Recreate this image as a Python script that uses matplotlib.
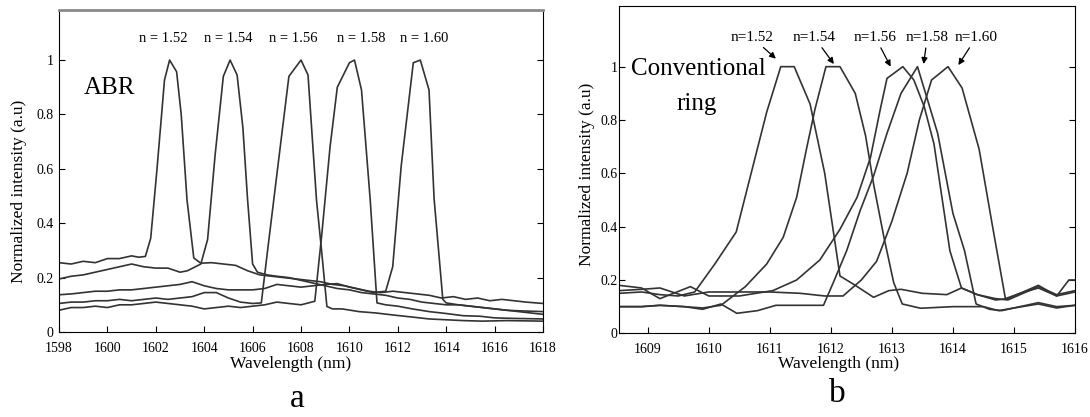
import matplotlib.pyplot as plt

plt.rcParams['font.family'] = ['Liberation Serif', 'DejaVu Serif']

# ---- panel a : ABR, wavelength (nm) / normalized intensity ----
a_labels = ['n = 1.52', 'n = 1.54', 'n = 1.56', 'n = 1.58', 'n = 1.60']
a_label_x = [1602.3, 1605.0, 1607.7, 1610.5, 1613.1]

a_x1 = [1598, 1598.5, 1599, 1599.5, 1600, 1600.5, 1601, 1601.3, 1601.57, 1601.79,
        1602.05, 1602.36, 1602.57, 1602.86, 1603.05, 1603.29, 1603.57, 1603.86, 1604.3, 1604.8,
        1605.3, 1605.8, 1606.3, 1606.8, 1607.3, 1607.8, 1608.3, 1608.8, 1609.3, 1609.8,
        1610.3, 1610.8, 1611.3, 1611.8, 1612.3, 1612.8, 1613.3, 1613.8, 1614.3, 1614.8,
        1615.3, 1615.8, 1616.3, 1616.8, 1617.3, 1618]
a_y1 = [0.255, 0.25, 0.26, 0.255, 0.27, 0.27, 0.28, 0.275, 0.278, 0.345,
        0.6, 0.927, 1.0, 0.957, 0.8, 0.486, 0.272, 0.253, 0.255, 0.25,
        0.245, 0.225, 0.21, 0.205, 0.2, 0.195, 0.19, 0.185, 0.175, 0.17,
        0.16, 0.15, 0.145, 0.15, 0.145, 0.14, 0.135, 0.125, 0.13, 0.12,
        0.125, 0.115, 0.12, 0.115, 0.11, 0.105]

a_x2 = [1598, 1598.5, 1599, 1599.5, 1600, 1600.5, 1601, 1601.5, 1602, 1602.5,
        1603, 1603.3, 1603.86, 1604.14, 1604.45, 1604.79, 1605.07, 1605.36, 1605.6, 1605.79,
        1606.0, 1606.2, 1606.6, 1607, 1607.5, 1608, 1608.5, 1609, 1609.5, 1610,
        1610.5, 1611, 1611.5, 1612, 1612.5, 1613, 1613.5, 1614, 1614.5, 1615,
        1615.5, 1616, 1616.5, 1617, 1618]
a_y2 = [0.195, 0.205, 0.21, 0.22, 0.23, 0.24, 0.25, 0.24, 0.235, 0.235,
        0.22, 0.225, 0.25, 0.34, 0.65, 0.94, 1.0, 0.945, 0.75, 0.49,
        0.25, 0.22, 0.21, 0.205, 0.2, 0.19, 0.18, 0.17, 0.16, 0.155,
        0.145, 0.14, 0.135, 0.125, 0.12, 0.11, 0.105, 0.1, 0.1, 0.095,
        0.09, 0.085, 0.08, 0.078, 0.075]

a_x3 = [1598, 1598.5, 1599, 1599.5, 1600, 1600.5, 1601, 1601.5, 1602, 1602.5,
        1603, 1603.5, 1604, 1604.5, 1605, 1605.5, 1606, 1606.36, 1606.64, 1607.1,
        1607.5, 1607.79, 1608.0, 1608.29, 1608.64, 1608.86, 1609.07, 1609.3, 1609.7, 1610.4,
        1611.1, 1611.86, 1612.6, 1613.3, 1614, 1614.7, 1615.5, 1616.5, 1618]
a_y3 = [0.105, 0.11, 0.11, 0.115, 0.115, 0.12, 0.115, 0.12, 0.125, 0.12,
        0.125, 0.13, 0.145, 0.145, 0.125, 0.11, 0.105, 0.107, 0.315, 0.65,
        0.94, 0.975, 1.0, 0.945, 0.486, 0.29, 0.094, 0.085, 0.085, 0.075,
        0.07, 0.062, 0.055, 0.048, 0.045, 0.042, 0.04, 0.042, 0.04]

a_x4 = [1598, 1598.5, 1599, 1599.5, 1600, 1600.5, 1601, 1601.5, 1602, 1602.5,
        1603, 1603.5, 1604, 1604.5, 1605, 1605.5, 1606, 1606.5, 1607, 1607.5,
        1608, 1608.57, 1608.86, 1609.2, 1609.5, 1610.0, 1610.21, 1610.5, 1610.86, 1611.14,
        1611.5, 1612, 1612.6, 1613.3, 1614, 1614.7, 1615.4, 1616, 1616.8, 1618]
a_y4 = [0.08, 0.09, 0.09, 0.095, 0.09, 0.1, 0.1, 0.105, 0.11, 0.105,
        0.1, 0.095, 0.085, 0.09, 0.095, 0.09, 0.095, 0.1, 0.11, 0.105,
        0.1, 0.113, 0.36, 0.68, 0.9, 0.99, 1.0, 0.89, 0.486, 0.107,
        0.1, 0.095, 0.085, 0.075, 0.068, 0.06, 0.058, 0.052, 0.05, 0.048]

a_x5 = [1598, 1598.5, 1599, 1599.5, 1600, 1600.5, 1601, 1601.5, 1602, 1602.5,
        1603, 1603.5, 1604, 1604.5, 1605, 1605.5, 1606, 1606.5, 1607, 1607.5,
        1608, 1608.5, 1609, 1609.5, 1610, 1610.5, 1611, 1611.5, 1611.79, 1612.14,
        1612.64, 1612.93, 1613.29, 1613.5, 1613.86, 1614.0, 1614.5, 1615, 1616, 1617, 1618]
a_y5 = [0.137, 0.14, 0.145, 0.15, 0.15, 0.155, 0.155, 0.16, 0.165, 0.17,
        0.175, 0.185, 0.17, 0.16, 0.155, 0.155, 0.155, 0.16, 0.175, 0.17,
        0.165, 0.17, 0.175, 0.178, 0.165, 0.155, 0.145, 0.15, 0.24, 0.61,
        0.99, 1.0, 0.89, 0.49, 0.12, 0.107, 0.1, 0.095, 0.085, 0.075, 0.065]

# ---- panel b : conventional ring ----
b_labels = ['n=1.52', 'n=1.54', 'n=1.56', 'n=1.58', 'n=1.60']
b_label_x = [1610.71, 1611.73, 1612.73, 1613.58, 1614.38]
b_arrow_x = [1611.1, 1612.05, 1612.98, 1613.52, 1614.09]
b_arrow_y = [1.03, 1.01, 1.0, 1.01, 1.006]

b_x1 = [1608.53, 1608.9, 1609.2, 1609.5, 1609.77, 1610.1, 1610.45, 1610.75, 1610.95, 1611.18,
        1611.4, 1611.66, 1611.9, 1612.15, 1612.4, 1612.7, 1612.95, 1613.15, 1613.5, 1613.9,
        1614.14, 1614.4, 1614.7, 1614.9, 1615.2, 1615.4, 1615.7, 1615.9, 1616]
b_y1 = [0.15, 0.155, 0.145, 0.14, 0.155, 0.26, 0.38, 0.65, 0.83, 1.0,
        1.0, 0.86, 0.6, 0.215, 0.18, 0.135, 0.16, 0.165, 0.15, 0.145,
        0.17, 0.145, 0.125, 0.13, 0.16, 0.18, 0.14, 0.2, 0.2]

b_x2 = [1608.53, 1608.9, 1609.2, 1609.6, 1609.9, 1610.2, 1610.6, 1610.95, 1611.22, 1611.44,
        1611.6, 1611.74, 1611.92, 1612.15, 1612.4, 1612.57, 1612.7, 1612.87, 1613.03, 1613.17,
        1613.47, 1614.0, 1614.5, 1614.75, 1615.0, 1615.4, 1615.7, 1616]
b_y2 = [0.1, 0.1, 0.105, 0.1, 0.095, 0.105, 0.175, 0.26, 0.36, 0.51,
        0.69, 0.84, 1.0, 1.0, 0.9, 0.74, 0.56, 0.36, 0.19, 0.11,
        0.094, 0.1, 0.1, 0.085, 0.095, 0.11, 0.095, 0.105]

b_x3 = [1608.53, 1608.9, 1609.2, 1609.7, 1610.0, 1610.5, 1611.05, 1611.44, 1611.82, 1612.15,
        1612.43, 1612.65, 1612.81, 1612.92, 1613.18, 1613.36, 1613.53, 1613.69, 1613.95, 1614.14,
        1614.4, 1614.7, 1614.9, 1615.2, 1615.4, 1615.7, 1616]
b_y3 = [0.18, 0.17, 0.13, 0.175, 0.14, 0.14, 0.16, 0.2, 0.275, 0.39,
        0.51, 0.66, 0.84, 0.956, 1.0, 0.95, 0.85, 0.71, 0.31, 0.17,
        0.145, 0.13, 0.125, 0.155, 0.175, 0.145, 0.16]

b_x4 = [1608.53, 1608.9, 1609.2, 1609.6, 1609.9, 1610.2, 1610.46, 1610.8, 1611.1, 1611.5,
        1611.88, 1612.04, 1612.26, 1612.48, 1612.7, 1612.92, 1613.15, 1613.42, 1613.75, 1614.0,
        1614.19, 1614.38, 1614.6, 1614.8, 1615.1, 1615.4, 1615.7, 1616]
b_y4 = [0.1, 0.1, 0.105, 0.1, 0.09, 0.11, 0.075, 0.085, 0.105, 0.105,
        0.105, 0.19, 0.31, 0.46, 0.59, 0.75, 0.9, 1.0, 0.75, 0.45,
        0.31, 0.11, 0.09, 0.085, 0.1, 0.115, 0.1, 0.105]

b_x5 = [1608.53, 1608.9, 1609.2, 1609.6, 1610.0, 1610.5, 1611.0, 1611.5, 1611.9, 1612.2,
        1612.5, 1612.75, 1613.0, 1613.25, 1613.45, 1613.65, 1613.92, 1614.15, 1614.43, 1614.65,
        1614.86, 1615.1, 1615.4, 1615.7, 1616]
b_y5 = [0.16, 0.165, 0.17, 0.14, 0.155, 0.155, 0.155, 0.15, 0.14, 0.14,
        0.2, 0.27, 0.42, 0.6, 0.8, 0.95, 1.0, 0.92, 0.69, 0.4,
        0.13, 0.15, 0.17, 0.14, 0.155]

yticks = [0, 0.2, 0.4, 0.6, 0.8, 1]
ytick_labels = ['0', '0.2', '0.4', '0.6', '0.8', '1']
line_color = '#333333'

fig = plt.figure(figsize=(10.9, 4.17), dpi=100)
ax1 = fig.add_axes([59 / 1090, 0.2038, 484 / 1090, 0.7722])
ax2 = fig.add_axes([619 / 1090, 0.2007, 456 / 1090, 0.7849])

# panel a
for xs, ys in [(a_x1, a_y1), (a_x2, a_y2), (a_x3, a_y3), (a_x4, a_y4), (a_x5, a_y5)]:
    ax1.plot(xs, ys, color=line_color, lw=1.2)
ax1.set_xlim(1598, 1618)
ax1.set_ylim(0, 1.184)
ax1.set_xticks(range(1598, 1620, 2))
ax1.set_yticks(yticks)
ax1.set_yticklabels(ytick_labels)
for lab, x in zip(a_labels, a_label_x):
    ax1.text(x, 1.08, lab, ha='center', va='center', fontsize=10.5)
ax1.text(1600.1, 0.896, 'ABR', ha='center', va='center', fontsize=18)
ax1.spines['top'].set_color('#8a8a8a')
ax1.spines['top'].set_linewidth(2)

# panel b
for xs, ys in [(b_x1, b_y1), (b_x2, b_y2), (b_x3, b_y3), (b_x4, b_y4), (b_x5, b_y5)]:
    ax2.plot(xs, ys, color=line_color, lw=1.2)
ax2.set_xlim(1608.53, 1616)
ax2.set_ylim(0, 1.2275)
ax2.set_xticks(range(1609, 1617))
ax2.set_yticks(yticks)
ax2.set_yticklabels(ytick_labels)
for lab, lx, tx, ty in zip(b_labels, b_label_x, b_arrow_x, b_arrow_y):
    ax2.annotate(lab, xy=(tx, ty), xytext=(lx, 1.11), ha='center', va='center',
                 fontsize=11,
                 arrowprops=dict(arrowstyle='-|>', color='black', lw=0.9,
                                 mutation_scale=9, shrinkA=1, shrinkB=0))
ax2.text(1609.83, 0.99, 'Conventional', ha='center', va='center', fontsize=18)
ax2.text(1609.81, 0.86, 'ring', ha='center', va='center', fontsize=18)

for ax in (ax1, ax2):
    ax.tick_params(direction='in', top=False, right=True, length=4, width=0.8,
                   labelsize=10)
    ax.tick_params(axis='x', pad=7)
    ax.tick_params(axis='y', pad=4)

ax2.tick_params(axis='y', pad=1)

# axis titles
ax1.text(0.479, -0.1, 'Wavelength (nm)', transform=ax1.transAxes,
         ha='center', va='center', fontsize=12.5)
ax1.text(-0.083, 0.436, 'Normalized intensity (a.u)', transform=ax1.transAxes,
         ha='center', va='center', rotation=90, fontsize=12.5)
ax2.text(0.482, -0.095, 'Wavelength (nm)', transform=ax2.transAxes,
         ha='center', va='center', fontsize=12.5)
ax2.text(-0.07, 0.487, 'Normalized intensity (a.u)', transform=ax2.transAxes,
         ha='center', va='center', rotation=90, fontsize=12.5)

fig.text(297 / 1090, 1 - 399 / 417, 'a', ha='center', va='center', fontsize=24)
fig.text(837 / 1090, 1 - 394 / 417, 'b', ha='center', va='center', fontsize=24)

fig.savefig('out.png', dpi=100)
